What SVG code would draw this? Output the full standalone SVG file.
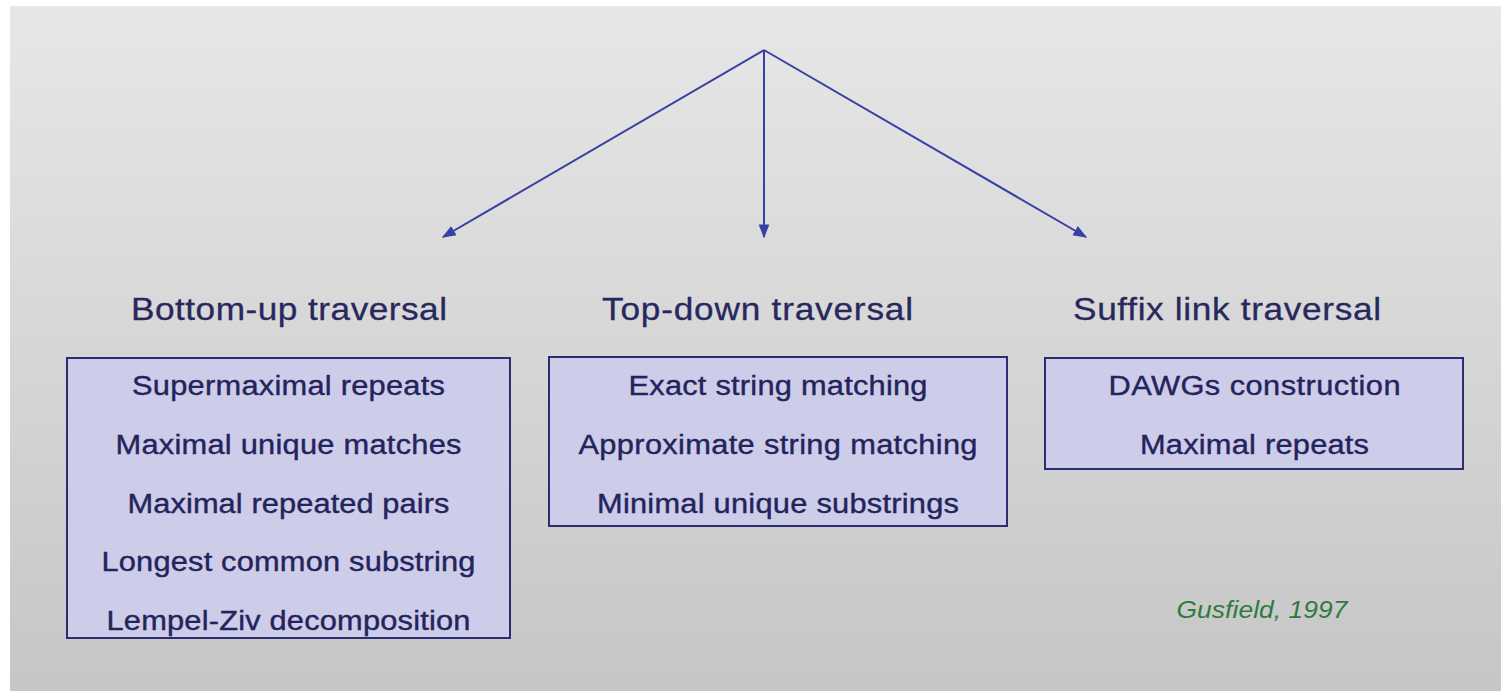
<svg xmlns="http://www.w3.org/2000/svg" width="1501" height="691" viewBox="0 0 1501 691">
  <defs>
    <linearGradient id="bg" x1="0" y1="0" x2="0" y2="1">
      <stop offset="0" stop-color="#e7e7e7"/>
      <stop offset="1" stop-color="#c5c6c5"/>
    </linearGradient>
    <marker id="arrowHead" viewBox="0 0 10 10" refX="9" refY="5" markerWidth="14" markerHeight="14" markerUnits="userSpaceOnUse" orient="auto">
      <path d="M0,1.2 L10,5 L0,8.8 Z" fill="#3840a6"/>
    </marker>
  </defs>
  <style>
    .box { fill: #cdcdea; stroke: #2c2c70; stroke-width: 2; }
    .title { font-family: "Liberation Sans", Arial, sans-serif; font-size: 32px; fill: #28285e; stroke: #28285e; stroke-width: 0.3; text-anchor: middle; }
    .item { font-family: "Liberation Sans", Arial, sans-serif; font-size: 28px; fill: #24245c; stroke: #24245c; stroke-width: 0.4; text-anchor: middle; }
    .cite { font-family: "Liberation Sans", Arial, sans-serif; font-size: 24px; font-style: italic; fill: #2f7a3c; text-anchor: middle; }
    .link { stroke: #3840a6; stroke-width: 2; fill: none; marker-end: url(#arrowHead); }
  </style>

  <rect x="0" y="0" width="1501" height="691" fill="#ffffff"/>
  <rect x="10" y="6" width="1491" height="685" fill="url(#bg)"/>

  <g id="connectors">
    <line class="link" x1="764" y1="50" x2="443" y2="237"/>
    <line class="link" x1="764" y1="50" x2="764" y2="237"/>
    <line class="link" x1="764" y1="50" x2="1086" y2="237"/>
  </g>

  <!-- text is widened 10% about its own centre line -->
  <g id="bottom-up">
    <text class="title" x="289" y="320" transform="matrix(1.1 0 0 1 -28.9 0)" textLength="287.3" lengthAdjust="spacing">Bottom-up traversal</text>
    <rect class="box" x="67" y="358" width="443" height="280"/>
    <g transform="matrix(1.1 0 0 1 -28.85 0)">
      <text class="item" x="288.5" y="395" textLength="284.5" lengthAdjust="spacing">Supermaximal repeats</text>
      <text class="item" x="288.5" y="454" textLength="314.5" lengthAdjust="spacing">Maximal unique matches</text>
      <text class="item" x="288.5" y="513" textLength="292.7" lengthAdjust="spacing">Maximal repeated pairs</text>
      <text class="item" x="288.5" y="571" textLength="340" lengthAdjust="spacing">Longest common substring</text>
      <text class="item" x="288.5" y="630" textLength="330.9" lengthAdjust="spacing">Lempel-Ziv decomposition</text>
    </g>
  </g>

  <g id="top-down">
    <text class="title" x="757.5" y="320" transform="matrix(1.1 0 0 1 -75.75 0)" textLength="282.7" lengthAdjust="spacing">Top-down traversal</text>
    <rect class="box" x="549" y="357" width="458" height="169"/>
    <g transform="matrix(1.1 0 0 1 -77.8 0)">
      <text class="item" x="778" y="395" textLength="271.8" lengthAdjust="spacing">Exact string matching</text>
      <text class="item" x="778" y="454" textLength="362.7" lengthAdjust="spacing">Approximate string matching</text>
      <text class="item" x="778" y="513" textLength="329.1" lengthAdjust="spacing">Minimal unique substrings</text>
    </g>
  </g>

  <g id="suffix-link">
    <text class="title" x="1227" y="320" transform="matrix(1.1 0 0 1 -122.7 0)" textLength="280" lengthAdjust="spacing">Suffix link traversal</text>
    <rect class="box" x="1045" y="358" width="418" height="111"/>
    <g transform="matrix(1.1 0 0 1 -125.45 0)">
      <text class="item" x="1254.5" y="395" textLength="265.5" lengthAdjust="spacing">DAWGs construction</text>
      <text class="item" x="1254.5" y="454" textLength="208.2" lengthAdjust="spacing">Maximal repeats</text>
    </g>
  </g>

  <g id="citation">
    <text class="cite" x="1262" y="618" transform="matrix(1.1 0 0 1 -126.2 0)" textLength="155.5" lengthAdjust="spacing">Gusfield, 1997</text>
  </g>
</svg>
